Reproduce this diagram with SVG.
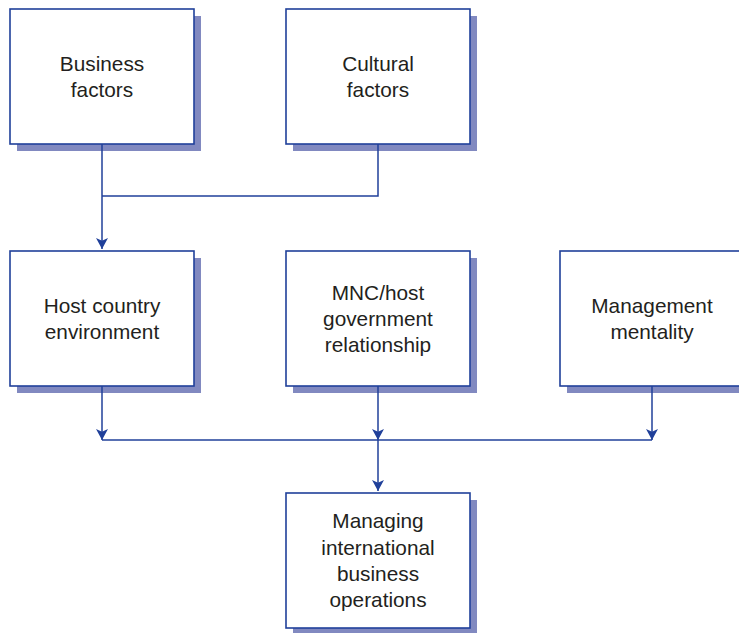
<svg xmlns="http://www.w3.org/2000/svg" width="739" height="633" viewBox="0 0 739 633">
<style>
.shadow{fill:#8189c0}
.box{fill:#ffffff;stroke:#20409a;stroke-width:1.6}
.t{font-family:"Liberation Sans",Arial,sans-serif;font-size:20.8px;fill:#231f20;text-anchor:middle}
.c{fill:none;stroke:#20409a;stroke-width:1.5}
</style>
<defs>
<marker id="ah" viewBox="0 0 12 13" refX="12" refY="6.5" markerWidth="13" markerHeight="12" markerUnits="userSpaceOnUse" orient="auto">
<path d="M0,0 L12,6.5 L0,13 L3,6.5 Z" fill="#20409a"/>
</marker>
</defs>
<rect width="739" height="633" fill="#ffffff"/>
<g id="business">
<rect class="shadow" x="17" y="16" width="184" height="135"/>
<rect class="box" x="10" y="9" width="184" height="135"/>
<text class="t" x="102" y="71">Business</text>
<text class="t" x="102" y="97">factors</text>
</g>
<g id="cultural">
<rect class="shadow" x="293" y="16" width="184" height="135"/>
<rect class="box" x="286" y="9" width="184" height="135"/>
<text class="t" x="378" y="71">Cultural</text>
<text class="t" x="378" y="97">factors</text>
</g>
<g id="host">
<rect class="shadow" x="17" y="258" width="184" height="135"/>
<rect class="box" x="10" y="251" width="184" height="135"/>
<text class="t" x="102" y="313">Host country</text>
<text class="t" x="102" y="339">environment</text>
</g>
<g id="mnc">
<rect class="shadow" x="293" y="258" width="184" height="135"/>
<rect class="box" x="286" y="251" width="184" height="135"/>
<text class="t" x="378" y="300">MNC/host</text>
<text class="t" x="378" y="326">government</text>
<text class="t" x="378" y="352">relationship</text>
</g>
<g id="management">
<rect class="shadow" x="567" y="258" width="184" height="135"/>
<rect class="box" x="560" y="251" width="184" height="135"/>
<text class="t" x="652" y="313">Management</text>
<text class="t" x="652" y="339">mentality</text>
</g>
<g id="managing">
<rect class="shadow" x="293" y="500" width="184" height="135"/>
<rect class="box" x="286" y="493" width="184" height="135"/>
<text class="t" x="378" y="528">Managing</text>
<text class="t" x="378" y="555">international</text>
<text class="t" x="378" y="581">business</text>
<text class="t" x="378" y="607">operations</text>
</g>
<g id="connectors">
<path class="c" d="M378,144 V196 H102"/>
<path class="c" d="M102,144 V249" marker-end="url(#ah)"/>
<path class="c" d="M102,440 H652"/>
<path class="c" d="M102,386 V440" marker-end="url(#ah)"/>
<path class="c" d="M378,386 V440" marker-end="url(#ah)"/>
<path class="c" d="M652,386 V440" marker-end="url(#ah)"/>
<path class="c" d="M378,440 V491" marker-end="url(#ah)"/>
</g>
</svg>
